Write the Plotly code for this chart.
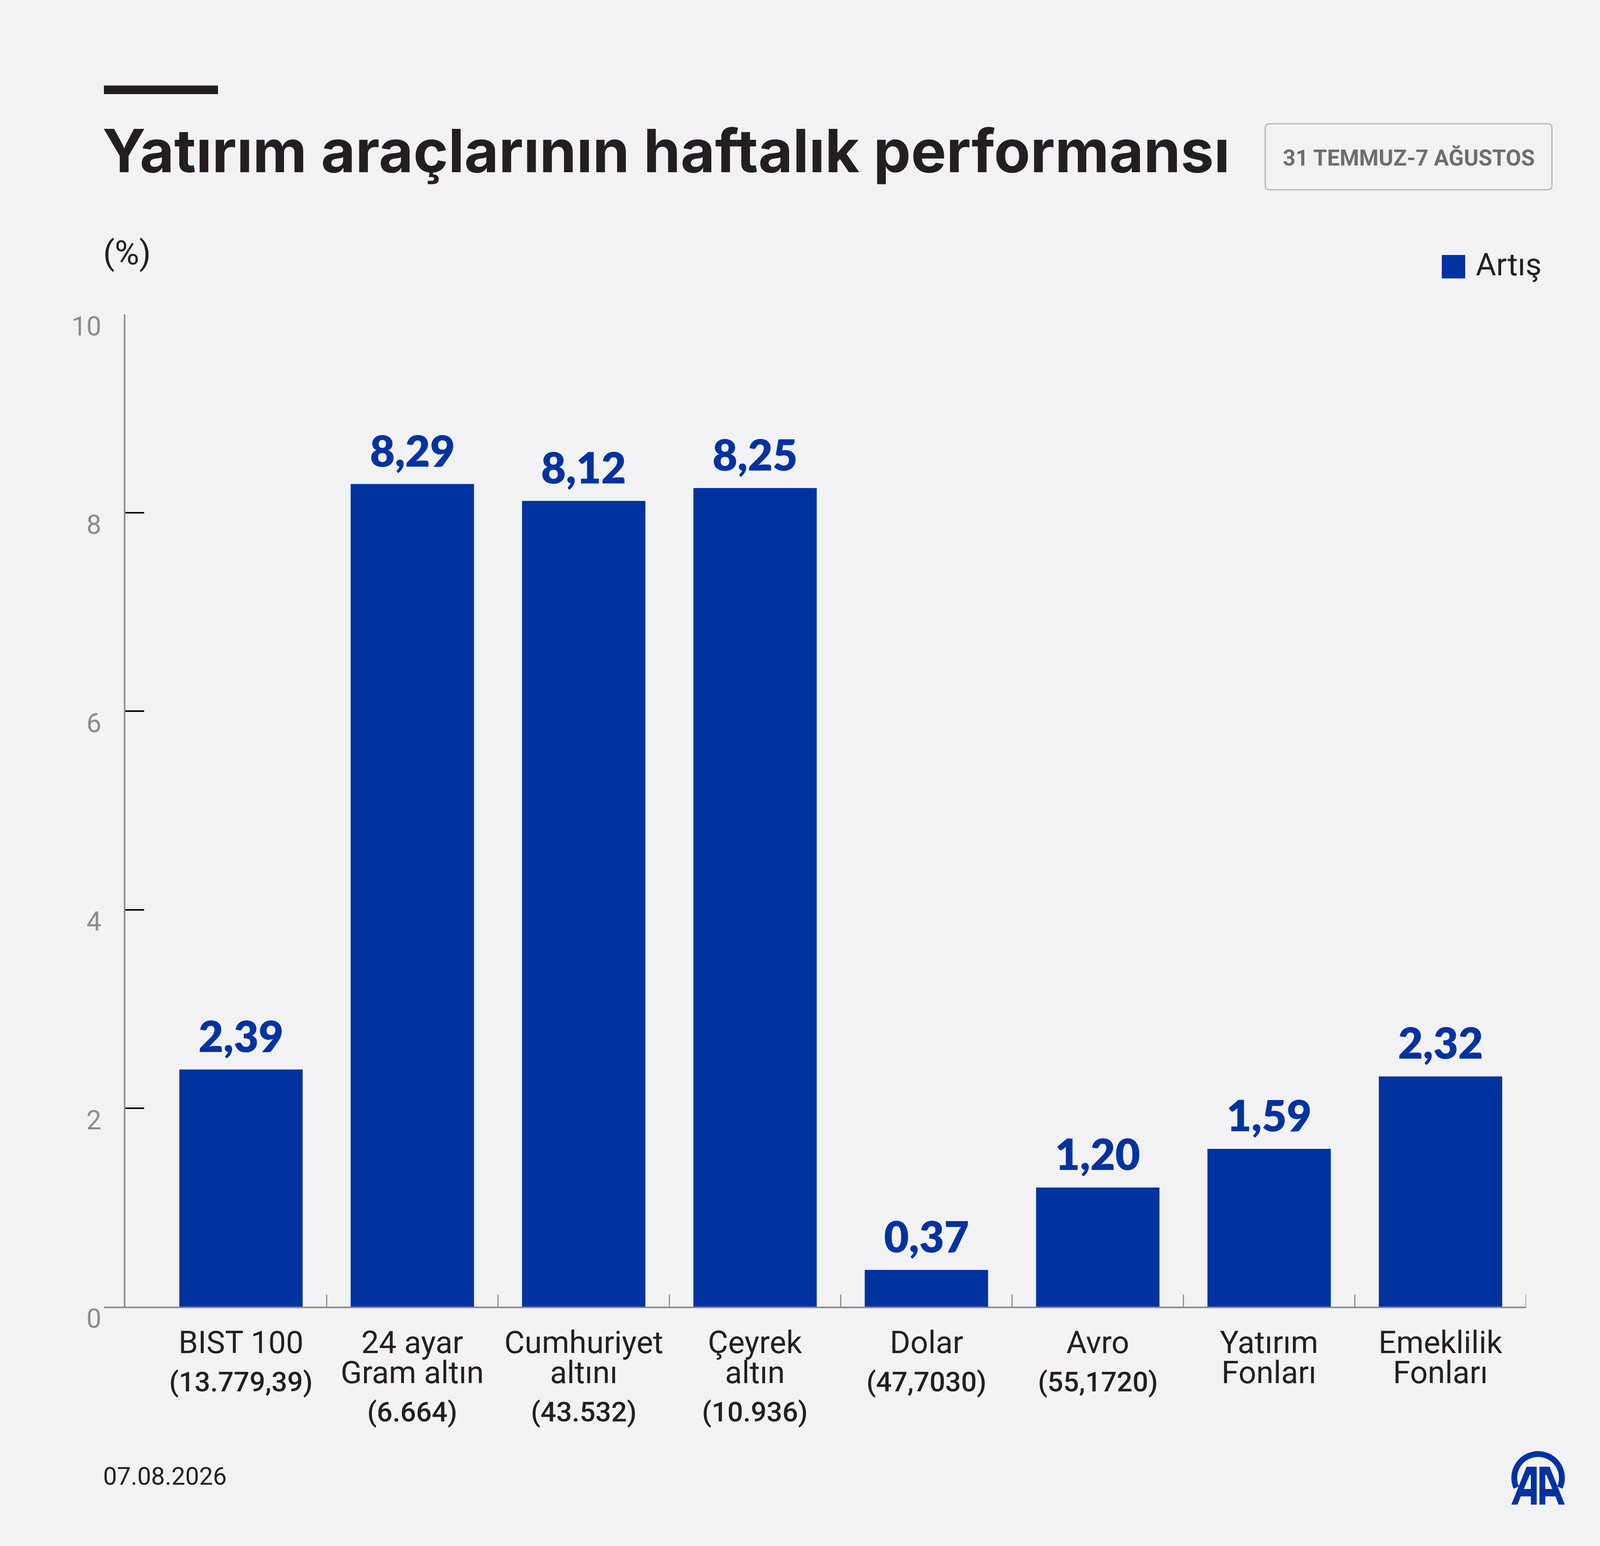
import numpy as np
import plotly.graph_objects as go

# data
names = ["BIST 100", "24 ayar<br>Gram altın", "Cumhuriyet<br>altını", "Çeyrek<br>altın",
         "Dolar", "Avro", "Yatırım<br>Fonları", "Emeklilik<br>Fonları"]
prices = ["(13.779,39)", "(6.664)", "(43.532)", "(10.936)", "(47,7030)", "(55,1720)", "", ""]
values = [2.39, 8.29, 8.12, 8.25, 0.37, 1.20, 1.59, 2.32]
y_ticks = [0, 2, 4, 6, 8, 10]

title = "Yatırım araçlarının haftalık performansı"
period = "31 TEMMUZ-7 AĞUSTOS"
date_txt = "07.08.2026"

BLUE = "#0033a0"
DARK = "#231f20"
GREY = "#8a8b8d"
BG = "#f2f2f4"

# canvas / plot area in pixels
W, H = 4168, 3959
ML, MR, MT, MB = 266, 261, 805, 613
PW, PH = W - ML - MR, H - MT - MB


def fx(px):
    return (px - ML) / PW


def fy(py):
    return (H - MB - py) / PH


fig = go.Figure()
fig.add_trace(go.Bar(x=names, y=values, marker_color=BLUE, marker_line_width=0,
                     showlegend=False, hoverinfo="skip"))

annots = []
shapes = []

# value labels above bars
for n, v in zip(names, values):
    annots.append(dict(x=n, y=v, xref="x", yref="y", text=f"{v:.2f}".replace(".", ","),
                       showarrow=False, yanchor="bottom", yshift=20,
                       font=dict(family="Lato", size=110, color=BLUE, weight=800)))

# category labels under axis (name lines + price line)
for n, p in zip(names, prices):
    lines = n.split("<br>")
    for j, ln in enumerate(lines):
        annots.append(dict(x=n, y=0, xref="x", yref="y", text=ln, showarrow=False,
                           yanchor="middle", yshift=-92 - 77 * j,
                           font=dict(family="Roboto", size=80, color=DARK)))
    if p:
        annots.append(dict(x=n, y=0, xref="x", yref="y", text=p, showarrow=False,
                           yanchor="middle", yshift=-92 - 77 * (len(lines) - 1) - 100,
                           font=dict(family="Roboto", size=71, color=DARK, weight=500)))

# separators between categories
for i in range(len(names)):
    shapes.append(dict(type="line", xref="x", yref="y", x0=i + 0.5, x1=i + 0.5,
                       ysizemode="pixel", yanchor=0, y0=-31, y1=31,
                       line=dict(color=GREY, width=3)))

# header
shapes.append(dict(type="rect", xref="paper", yref="paper", x0=fx(266), x1=fx(558),
                   y0=fy(241), y1=fy(219), fillcolor=DARK, line_width=0))
annots.append(dict(xref="paper", yref="paper", x=fx(260), y=fy(386), text=f"<b>{title}</b>",
                   showarrow=False, xanchor="left", yanchor="middle",
                   font=dict(family="Inter", size=152, color=DARK, weight=800)))

# period box with rounded corners
bx0, bx1, by0, by1, r = 3239, 3973, 317, 486, 12
box = (f"M {fx(bx0 + r)} {fy(by0)} L {fx(bx1 - r)} {fy(by0)} "
       f"Q {fx(bx1)} {fy(by0)} {fx(bx1)} {fy(by0 + r)} L {fx(bx1)} {fy(by1 - r)} "
       f"Q {fx(bx1)} {fy(by1)} {fx(bx1 - r)} {fy(by1)} L {fx(bx0 + r)} {fy(by1)} "
       f"Q {fx(bx0)} {fy(by1)} {fx(bx0)} {fy(by1 - r)} L {fx(bx0)} {fy(by0 + r)} "
       f"Q {fx(bx0)} {fy(by0)} {fx(bx0 + r)} {fy(by0)} Z")
shapes.append(dict(type="path", xref="paper", yref="paper", path=box,
                   line=dict(color="#b3b4b6", width=3)))
annots.append(dict(xref="paper", yref="paper", x=fx(3606), y=fy(405), text=f"<b>{period}</b>",
                   showarrow=False, xanchor="center", yanchor="middle",
                   font=dict(family="Roboto", size=57, color="#6d6e71")))

# unit + legend
annots.append(dict(xref="paper", yref="paper", x=fx(262), y=fy(648), text="(%)",
                   showarrow=False, xanchor="left", yanchor="middle",
                   font=dict(family="Roboto", size=86, color=DARK)))
shapes.append(dict(type="rect", xref="paper", yref="paper", x0=fx(3691), x1=fx(3751),
                   y0=fy(713), y1=fy(653), fillcolor=BLUE, line_width=0))
annots.append(dict(xref="paper", yref="paper", x=fx(3776), y=fy(678), text="Artış",
                   showarrow=False, xanchor="left", yanchor="middle",
                   font=dict(family="Roboto", size=80, color=DARK)))

# footer date
annots.append(dict(xref="paper", yref="paper", x=fx(262), y=fy(3780), text=date_txt,
                   showarrow=False, xanchor="left", yanchor="middle",
                   font=dict(family="Roboto", size=63, color=DARK)))

# AA logo: arch + two letters
cx, cy, ro, ri = 3937.5, 3784.5, 68.5, 53.5
ang = np.radians(np.linspace(-24, 204, 60))
pts = [(cx + ro * np.cos(a), cy - ro * np.sin(a)) for a in ang]
pts += [(cx + ri * np.cos(a), cy - ri * np.sin(a)) for a in ang[::-1]]
arch = "M " + " L ".join(f"{fx(x)} {fy(y)}" for x, y in pts) + " Z"
shapes.append(dict(type="path", xref="paper", yref="paper", path=arch,
                   fillcolor=BLUE, line_width=0))
a_outer = [(3869, 3853), (3908, 3756), (3934, 3756), (3934, 3853), (3919, 3853),
           (3919, 3832), (3893, 3832), (3885, 3853)]
a_hole = [(3916, 3777), (3919, 3777), (3919, 3813), (3901, 3813)]
for mirror in (False, True):
    def m(p):
        return (2 * cx - p[0], p[1]) if mirror else p
    path = "M " + " L ".join(f"{fx(m(p)[0])} {fy(m(p)[1])}" for p in a_outer) + " Z "
    path += "M " + " L ".join(f"{fx(m(p)[0])} {fy(m(p)[1])}" for p in a_hole) + " Z"
    shapes.append(dict(type="path", xref="paper", yref="paper", path=path,
                       fillcolor=BLUE, line_width=0, fillrule="evenodd"))

fig.update_layout(
    width=W, height=H, margin=dict(l=ML, r=MR, t=MT, b=MB),
    paper_bgcolor=BG, plot_bgcolor=BG, bargap=0.28,
    annotations=annots, shapes=shapes, showlegend=False,
    xaxis=dict(type="category", range=[-0.8, 7.5], showticklabels=False, ticks="",
               showline=True, linecolor=GREY, linewidth=4, showgrid=False, zeroline=False,
               fixedrange=True),
    yaxis=dict(range=[0, 10], tickvals=y_ticks, ticks="inside", ticklen=48, tickwidth=4,
               tickcolor="#000000", showline=True, linecolor=GREY, linewidth=4,
               showgrid=False, zeroline=False, anchor="free", position=fx(319),
               tickfont=dict(family="Roboto", size=68, color=GREY),
               ticklabelshift=30, ticklabelstandoff=44),
)

fig.write_html("out.html", config={"displayModeBar": False},
               post_script="document.body.style.margin='0';")
